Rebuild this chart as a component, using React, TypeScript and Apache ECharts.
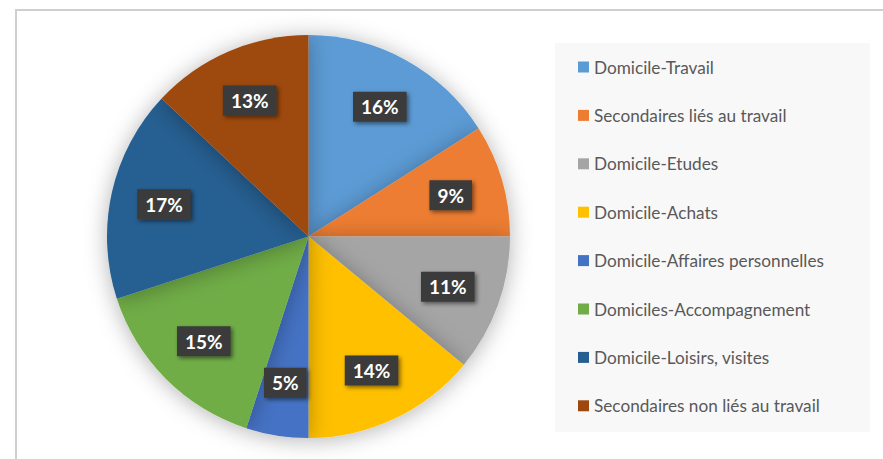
import React, { useEffect, useRef } from "react";
import * as echarts from "echarts";

const categories = [
  "Domicile-Travail",
  "Secondaires liés au travail",
  "Domicile-Etudes",
  "Domicile-Achats",
  "Domicile-Affaires personnelles",
  "Domiciles-Accompagnement",
  "Domicile-Loisirs, visites",
  "Secondaires non liés au travail",
];
const values = [16, 9, 11, 14, 5, 15, 17, 13];
const colors = ["#5B9BD5", "#ED7D31", "#A5A5A5", "#FFC000", "#4472C4", "#70AD47", "#255E91", "#9E480E"];

export default function App() {
  const ref = useRef<HTMLDivElement>(null);
  useEffect(() => {
    if (!ref.current) return;
    const chart = echarts.init(ref.current, null, { renderer: "svg" });
    const R = 201.5;
    const data = categories.map((name, i) => ({ name, value: values[i], itemStyle: { color: colors[i] } }));
    chart.setOption({
      animation: false,
      backgroundColor: "#ffffff",
      graphic: {
        elements: [
          {
            type: "rect",
            z: -1,
            shape: { x: 16, y: 10, width: 900, height: 500 },
            style: { fill: "#ffffff", stroke: "#cfcfcf", lineWidth: 2 },
          },
          {
            type: "rect",
            z: -1,
            shape: { x: 555, y: 43, width: 315, height: 389 },
            style: { fill: "#f8f8f8" },
          },
        ],
      },
      legend: {
        orient: "vertical",
        left: 578,
        top: 57,
        padding: 0,
        icon: "rect",
        itemWidth: 11,
        itemHeight: 11,
        itemGap: 28.4,
        data: categories,
        textStyle: {
          fontFamily: "Lato",
          fontSize: 17.2,
          color: "#595959",
          lineHeight: 20,
        },
      },
      series: [
        {
          type: "pie",
          center: [308.5, 236.5],
          radius: [0, R],
          startAngle: 90,
          clockwise: true,
          label: { show: false },
          labelLine: { show: false },
          itemStyle: {
            shadowBlur: 22,
            shadowColor: "rgba(0,0,0,0.3)",
            shadowOffsetX: 0,
            shadowOffsetY: 2,
          },
          emphasis: { disabled: true },
          data,
        },
        {
          type: "pie",
          center: [308.5, 236.5],
          radius: [R * 0.44, R],
          startAngle: 90,
          clockwise: true,
          silent: true,
          itemStyle: { color: "rgba(0,0,0,0)" },
          labelLine: { show: false },
          label: {
            show: true,
            position: "inside",
            formatter: "{c}%",
            color: "#ffffff",
            fontFamily: "Lato",
            fontWeight: "bold",
            fontSize: 19,
            backgroundColor: "#3a3a3a",
            padding: [6, 8, 5, 8],
            shadowColor: "rgba(0,0,0,0.5)",
            shadowBlur: 4,
            shadowOffsetX: 2,
            shadowOffsetY: 2,
          },
          emphasis: { disabled: true },
          data: categories.map((name, i) => ({ name, value: values[i] })),
        },
      ],
    });
    return () => chart.dispose();
  }, []);
  return (
    <div
      ref={ref}
      style={{ position: "fixed", left: 0, top: 0, width: 883, height: 459 }}
    />
  );
}
